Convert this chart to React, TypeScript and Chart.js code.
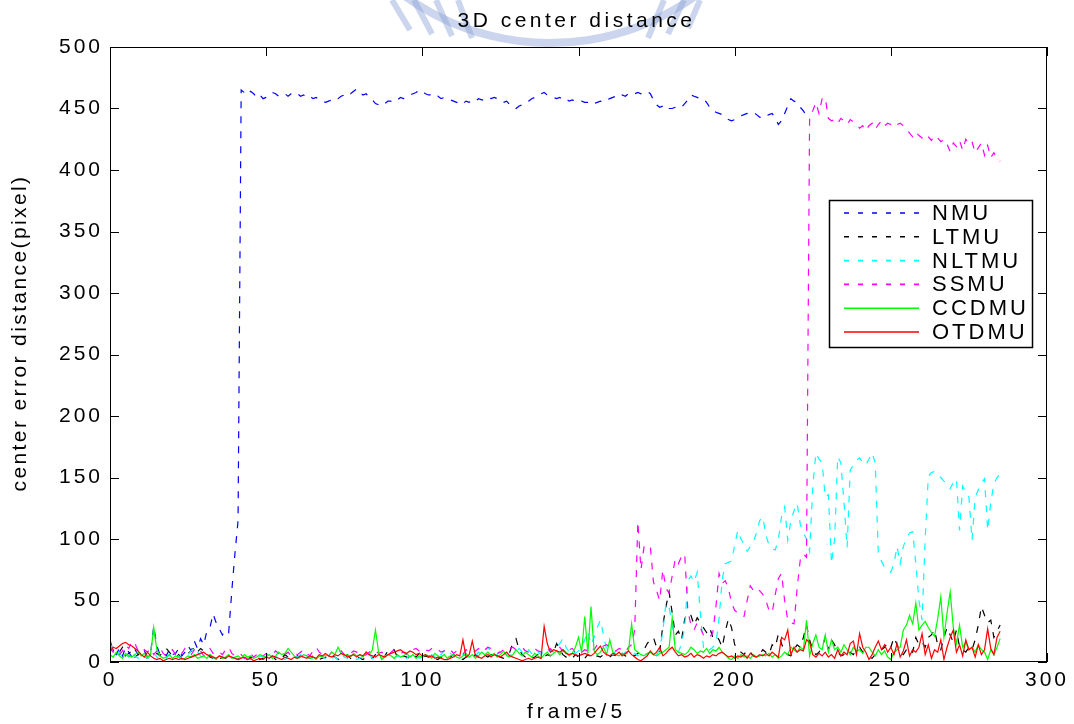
import { useEffect, useRef } from "react";
import { Chart, registerables } from "chart.js";

Chart.register(...registerables);

// Frame index of the first sample in every series (frames are plotted as frame/5).
const FIRST_FRAME = 0;

const NMU = [
  18, 9, 6, 11, 5, 12, 8, 4, 10, 6,
  5, 9, 4, 7, 29, 13, 6, 8, 5, 10,
  6, 7, 11, 5, 8, 13, 9, 17, 11, 19,
  14, 25, 28, 39, 32, 27, 22, 26, 24, 58,
  88, 115, 465, 463, 461, 464, 462, 459, 461, 458,
  459, 461, 463, 462, 460, 461, 462, 460, 462, 461,
  462, 460, 461, 459, 460, 458, 459, 457, 456, 455,
  456, 457, 459, 458, 460, 461, 463, 462, 464, 466,
  463, 461, 462, 459, 457, 454, 453, 455, 454, 456,
  456, 458, 457, 459, 458, 460, 461, 462, 463, 465,
  464, 462, 461, 461, 459, 460, 458, 459, 458, 457,
  456, 455, 453, 454, 456, 455, 457, 456, 458, 457,
  457, 459, 458, 459, 458, 457, 455, 456, 453, 451,
  450, 452, 453, 455, 456, 458, 459, 461, 462, 463,
  461, 460, 459, 458, 459, 457, 458, 456, 457, 456,
  455, 456, 455, 455, 456, 454, 455, 456, 455, 457,
  458, 459, 460, 459, 461, 460, 462, 461, 462, 463,
  462, 463, 464, 462, 457, 453, 451, 452, 449, 450,
  450, 451, 452, 451, 454, 457, 461, 460, 459, 458,
  458, 455, 451, 448, 447, 446, 445, 443, 441, 440,
  441, 443, 444, 445, 446, 447, 447, 445, 443, 442,
  444, 445, 446, 442, 437, 440, 446, 452, 458, 456,
  455, 451, 448, 444, 441,
];

const LTMU = [
  14, 10, 6, 8, 12, 5, 7, 9, 4, 6,
  8, 5, 3, 6, 4, 7, 5, 9, 11, 8,
  5, 4, 6, 3, 5, 7, 9, 12, 8, 11,
  9, 6, 4, 3, 5, 2, 4, 3, 5, 4,
  3, 2, 4, 3, 2, 4, 3, 5, 2, 3,
  4, 3, 5, 2, 4, 3, 6, 4, 2, 3,
  5, 3, 2, 4, 3, 5, 4, 2, 3, 4,
  3, 5, 4, 2, 3, 4, 6, 3, 2, 4,
  3, 2, 4, 5, 3, 6, 4, 3, 5, 9,
  11, 10, 4, 3, 5, 4, 3, 6, 4, 7,
  3, 5, 4, 6, 3, 2, 4, 3, 5, 4,
  6, 4, 3, 2, 4, 5, 3, 6, 4, 3,
  5, 4, 6, 3, 5, 4, 3, 6, 8, 16,
  19, 10, 6, 4, 5, 3, 4, 6, 5, 4,
  6, 5, 8, 15, 10, 6, 4, 5, 3, 6,
  4, 5, 3, 6, 4, 3, 5, 4, 6, 5,
  4, 6, 5, 3, 7, 5, 4, 6, 5, 7,
  8, 10, 15, 18, 20, 12, 8, 30, 45, 57,
  40, 22, 25, 18, 35, 40, 38, 30, 36, 32,
  28, 24, 28, 20, 22, 18, 12, 25, 35, 28,
  14, 12, 8, 6, 10, 8, 5, 4, 6, 10,
  8, 6, 14, 12, 23, 15, 8, 6, 5, 10,
  14, 12, 20, 30, 18, 10, 6, 8, 12, 20,
  10, 18, 14, 8, 5, 6, 4, 8, 6, 10,
  12, 8, 6, 4, 3, 6, 8, 10, 12, 16,
  12, 20, 14, 8, 6, 10, 12, 8, 20, 14,
  16, 12, 20, 22, 26, 14, 10, 20, 28, 22,
  16, 26, 12, 10, 8, 12, 10, 18, 30, 45,
  38, 32, 34, 20, 25, 30,
];

const NLTMU = [
  15, 10, 5, 8, 3, 6, 4, 9, 5, 3,
  4, 6, 3, 5, 8, 4, 2, 5, 3, 6,
  4, 2, 5, 3, 4, 6, 9, 12, 8, 5,
  3, 4, 6, 3, 2, 5, 4, 3, 6, 4,
  3, 2, 4, 5, 3, 2, 4, 3, 5, 4,
  2, 3, 5, 4, 6, 3, 2, 4, 3, 5,
  4, 6, 3, 5, 4, 2, 3, 5, 4, 3,
  5, 3, 4, 2, 6, 4, 3, 5, 4, 2,
  3, 5, 4, 6, 3, 2, 4, 3, 5, 6,
  4, 3, 5, 4, 2, 3, 5, 4, 6, 3,
  4, 5, 3, 6, 4, 8, 6, 9, 11, 7,
  5, 3, 4, 6, 5, 3, 4, 5, 8, 6,
  9, 12, 8, 5, 6, 10, 8, 6, 5, 7,
  9, 11, 8, 6, 10, 7, 5, 8, 6, 9,
  7, 10, 8, 12, 15, 19, 12, 8, 10, 7,
  9, 12, 18, 25, 14, 20, 28, 34, 22, 10,
  8, 6, 9, 7, 5, 8, 6, 4, 7, 5,
  6, 8, 5, 9, 7, 6, 10, 25, 48, 45,
  30, 12, 8, 15, 28, 66, 70, 65, 73, 40,
  12, 8, 10, 12, 15, 35, 67, 80, 81, 82,
  95, 107, 100, 96, 90, 94, 98, 105, 115, 118,
  103, 95, 92, 91, 100, 118, 126, 99, 115, 123,
  129, 112, 105, 100, 90, 142, 170, 165, 162, 134,
  136, 80, 100, 167, 162, 130, 93, 156, 160, 164,
  166, 162, 160, 165, 170, 162, 88, 82, 77, 75,
  73, 80, 94, 80, 94, 100, 105, 106, 80, 50,
  34, 100, 151, 154, 155, 152, 150, 147, 145, 141,
  146, 149, 107, 143, 138, 134, 99, 134, 140, 145,
  149, 107, 130, 145, 150, 153,
];

const SSMU = [
  12, 8, 10, 6, 9, 14, 11, 17, 15, 9,
  7, 10, 8, 11, 6, 9, 12, 7, 5, 8,
  10, 6, 9, 7, 11, 8, 6, 10, 7, 9,
  5, 8, 11, 7, 9, 8, 6, 10, 12, 7,
  5, 4, 6, 3, 5, 7, 4, 6, 8, 5,
  7, 5, 6, 9, 7, 4, 6, 8, 5, 7,
  6, 8, 10, 7, 5, 9, 12, 8, 6, 7,
  5, 8, 6, 7, 9, 6, 8, 7, 9, 8,
  7, 5, 6, 8, 10, 9, 7, 8, 6, 5,
  8, 10, 9, 7, 8, 6, 9, 10, 11, 9,
  8, 10, 9, 11, 12, 10, 8, 9, 11, 10,
  7, 9, 8, 6, 10, 8, 7, 9, 11, 8,
  10, 12, 11, 9, 7, 8, 10, 9, 11, 12,
  10, 11, 12, 9, 8, 10, 11, 9, 8, 10,
  9, 11, 8, 10, 12, 9, 7, 10, 11, 8,
  6, 8, 10, 9, 12, 10, 14, 11, 13, 14,
  12, 10, 9, 11, 10, 8, 12, 14, 26, 114,
  75, 94, 95, 94, 65, 58, 50, 75, 60, 56,
  70, 84, 80, 86, 88, 42, 30, 26, 32, 28,
  22, 22, 20, 24, 45, 72, 64, 66, 60, 48,
  42, 40, 38, 37, 50, 62, 58, 60, 58, 55,
  50, 42, 40, 55, 68, 72, 50, 34, 32, 31,
  60, 83, 88, 85, 445, 448, 455, 446, 458, 459,
  442, 440, 441, 438, 442, 440, 437, 441, 439, 437,
  434, 436, 432, 436, 438, 433, 437, 440, 436, 438,
  437, 439, 437, 438, 436, 433, 430, 427, 431, 428,
  426, 429, 427, 424, 428, 426, 423, 425, 421, 415,
  422, 419, 424, 416, 425, 421, 423, 414, 418, 422,
  412, 420, 410, 414, 409, 407,
];

const CCDMU = [
  6, 4, 8, 5, 3, 7, 5, 4, 6, 8,
  5, 7, 4, 6, 28, 10, 5, 3, 4, 6,
  3, 5, 4, 2, 3, 5, 4, 6, 3, 4,
  5, 3, 6, 4, 2, 5, 3, 4, 6, 3,
  4, 5, 3, 6, 4, 5, 3, 4, 6, 5,
  4, 6, 3, 5, 8, 6, 7, 11, 8, 5,
  3, 4, 6, 5, 3, 4, 2, 5, 4, 6,
  5, 8, 6, 12, 7, 5, 6, 4, 7, 5,
  6, 4, 8, 6, 10, 26, 8, 2, 4, 6,
  5, 3, 6, 4, 5, 7, 4, 6, 3, 5,
  4, 6, 5, 3, 7, 5, 4, 6, 3, 5,
  6, 4, 3, 5, 7, 4, 6, 3, 5, 8,
  6, 8, 5, 7, 4, 6, 9, 5, 4, 6,
  10, 7, 5, 8, 6, 4, 7, 5, 3, 6,
  8, 5, 7, 9, 6, 10, 8, 5, 7, 12,
  20, 8, 37, 7, 45, 9, 6, 8, 12, 6,
  18, 8, 6, 5, 7, 6, 9, 31, 10, 8,
  6, 5, 7, 8, 6, 5, 7, 8, 10, 12,
  36, 10, 8, 7, 6, 8, 12, 10, 7, 9,
  8, 11, 7, 10, 9, 12, 8, 6, 3, 2,
  5, 3, 6, 4, 5, 3, 6, 4, 5, 6,
  5, 7, 4, 6, 3, 5, 8, 6, 12, 10,
  8, 12, 10, 34, 5, 15, 22, 12, 10, 22,
  8, 18, 10, 12, 8, 14, 10, 6, 12, 9,
  10, 7, 12, 12, 8, 5, 10, 6, 9, 4,
  2, 8, 10, 12, 26, 30, 38, 31, 48, 26,
  30, 33, 28, 24, 21, 35, 53, 20, 40, 57,
  28, 15, 30, 12, 16, 10, 12, 8, 14, 10,
  8, 2, 10, 6, 12, 19,
];

const OTDMU = [
  8, 12, 11, 13, 15, 16, 14, 13, 11, 9,
  6, 4, 8, 5, 3, 2, 3, 1, 2, 3,
  2, 3, 2, 3, 2, 3, 4, 5, 6, 7,
  8, 6, 5, 4, 3, 5, 4, 3, 5, 4,
  3, 2, 3, 4, 2, 3, 1, 2, 3, 2,
  4, 3, 5, 4, 3, 2, 4, 3, 2, 4,
  3, 5, 4, 3, 5, 4, 3, 6, 5, 7,
  5, 4, 6, 5, 7, 6, 4, 5, 6, 4,
  6, 5, 8, 6, 5, 4, 6, 5, 4, 6,
  7, 8, 9, 10, 8, 7, 9, 8, 6, 7,
  5, 6, 4, 5, 3, 4, 3, 2, 2, 3,
  4, 6, 5, 18, 4, 6, 17, 5, 4, 3,
  5, 6, 4, 6, 5, 4, 6, 8, 5, 4,
  3, 2, 1, 2, 3, 2, 3, 4, 3, 29,
  15, 8, 10, 9, 8, 10, 7, 6, 7, 6,
  5, 6, 7, 6, 5, 7, 10, 13, 8, 6,
  5, 7, 6, 8, 5, 7, 9, 6, 4, 2,
  1, 3, 5, 9, 6, 8, 12, 5, 7, 10,
  12, 8, 5, 6, 4, 5, 7, 4, 6, 5,
  3, 5, 4, 6, 5, 7, 8, 6, 4, 5,
  3, 5, 4, 6, 3, 7, 5, 4, 6, 5,
  7, 5, 8, 6, 4, 20, 18, 26, 6, 12,
  8, 10, 9, 18, 16, 6, 4, 7, 5, 8,
  4, 6, 3, 10, 5, 8, 6, 15, 17, 6,
  23, 12, 8, 2, 6, 12, 17, 10, 14, 8,
  12, 6, 15, 4, 9, 18, 5, 10, 8, 12,
  23, 6, 14, 3, 10, 8, 18, 2, 12, 20,
  26, 8, 14, 5, 18, 10, 12, 4, 14, 6,
  10, 27, 11, 6, 20, 25,
];

const SERIES_NAMES = ["NMU", "LTMU", "NLTMU", "SSMU", "CCDMU", "OTDMU"];
const SERIES_VALUES = [NMU, LTMU, NLTMU, SSMU, CCDMU, OTDMU];
const SERIES_COLORS = ["#0000ff", "#000000", "#00ffff", "#ff00ff", "#00ff00", "#ff0000"];
const SERIES_DASHED = [true, true, true, true, false, false];

const X_MIN = 0;
const X_MAX = 300;
const X_STEP = 50;
const Y_MIN = 0;
const Y_MAX = 500;
const Y_STEP = 50;

const TITLE = "3D center distance";
const X_TITLE = "frame/5";
const Y_TITLE = "center error distance(pixel)";

const FONT = '"Liberation Sans", Arial, Helvetica, sans-serif';
const DASH = [7, 8];
const TICK_SPACING = 3;

const toPoints = (values: number[]) =>
  values.map((v, i) => ({ x: FIRST_FRAME + i, y: v }));

// Faint crest printed behind the figure; also sets the wide glyph spacing used by the tick labels.
const crestPlugin = {
  id: "crest",
  beforeDraw(chart: any) {
    const ctx = chart.ctx as CanvasRenderingContext2D;
    ctx.save();
    ctx.fillStyle = "#ffffff";
    ctx.fillRect(0, 0, chart.width, chart.height);
    ctx.strokeStyle = "rgba(140, 162, 214, 0.45)";
    ctx.lineWidth = 8;
    ctx.beginPath();
    ctx.arc(550, -205, 248, 0.2 * Math.PI, 0.8 * Math.PI);
    ctx.stroke();
    ctx.lineWidth = 6;
    const stripes: [number, number, number, number][] = [
      [392, 0, 410, 30],
      [414, 0, 432, 34],
      [436, 0, 452, 36],
      [458, 0, 472, 38],
      [648, 38, 664, 0],
      [668, 34, 684, 0],
      [688, 28, 700, 0],
    ];
    for (const [x1, y1, x2, y2] of stripes) {
      ctx.beginPath();
      ctx.moveTo(x1, y1);
      ctx.lineTo(x2, y2);
      ctx.stroke();
    }
    ctx.restore();
    (ctx as any).letterSpacing = `${TICK_SPACING}px`;
  },
};

// Box, inward ticks, titles and the legend panel.
const framePlugin = {
  id: "frame",
  afterDraw(chart: any) {
    const ctx = chart.ctx as CanvasRenderingContext2D;
    const { left, right, top, bottom } = chart.chartArea;
    const xs = chart.scales.x;
    const ys = chart.scales.y;
    const tick = 9;
    ctx.save();
    ctx.strokeStyle = "#000";
    ctx.lineWidth = 1;
    ctx.setLineDash([]);
    ctx.strokeRect(left + 0.5, top + 0.5, right - left - 1, bottom - top - 1);
    ctx.beginPath();
    for (let v = X_MIN; v <= X_MAX; v += X_STEP) {
      const px = Math.round(xs.getPixelForValue(v)) + 0.5;
      ctx.moveTo(px, bottom);
      ctx.lineTo(px, bottom - tick);
      ctx.moveTo(px, top);
      ctx.lineTo(px, top + tick);
    }
    for (let v = Y_MIN; v <= Y_MAX; v += Y_STEP) {
      const py = Math.round(ys.getPixelForValue(v)) + 0.5;
      ctx.moveTo(left, py);
      ctx.lineTo(left + tick, py);
      ctx.moveTo(right, py);
      ctx.lineTo(right - tick, py);
    }
    ctx.stroke();

    ctx.fillStyle = "#000";
    ctx.textAlign = "center";
    ctx.textBaseline = "middle";
    ctx.font = `21px ${FONT}`;
    const cx = (left + right) / 2;
    (ctx as any).letterSpacing = "3.5px";
    ctx.fillText(TITLE, cx - 2, 21);
    (ctx as any).letterSpacing = "4px";
    ctx.fillText(X_TITLE, cx - 2, 712);
    (ctx as any).letterSpacing = "2.4px";
    ctx.save();
    ctx.translate(20, 333);
    ctx.rotate(-Math.PI / 2);
    ctx.fillText(Y_TITLE, 0, 0);
    ctx.restore();

    // legend
    const lx = 829;
    const ly = 200;
    const lw = 203;
    const lh = 147;
    ctx.fillStyle = "#fff";
    ctx.fillRect(lx, ly, lw, lh);
    ctx.strokeStyle = "#000";
    ctx.lineWidth = 1.5;
    ctx.strokeRect(lx + 0.5, ly + 0.5, lw, lh);
    ctx.font = `22px ${FONT}`;
    (ctx as any).letterSpacing = "3px";
    ctx.textAlign = "left";
    SERIES_NAMES.forEach((name, i) => {
      const yy = 213 + i * 23.8;
      ctx.strokeStyle = SERIES_COLORS[i];
      ctx.lineWidth = 1.6;
      ctx.setLineDash(SERIES_DASHED[i] ? [5, 9] : []);
      ctx.beginPath();
      ctx.moveTo(844, yy);
      ctx.lineTo(919, yy);
      ctx.stroke();
      ctx.fillStyle = "#000";
      ctx.fillText(name, 932, yy + 1);
    });
    ctx.restore();
  },
};

export default function App() {
  const canvasRef = useRef<HTMLCanvasElement | null>(null);

  useEffect(() => {
    const canvas = canvasRef.current;
    if (!canvas) return;
    const datasets = SERIES_NAMES.map((name, i) => ({
      label: name,
      data: toPoints(SERIES_VALUES[i]),
      borderColor: SERIES_COLORS[i],
      backgroundColor: SERIES_COLORS[i],
      borderWidth: 1.2,
      borderDash: SERIES_DASHED[i] ? DASH : [],
      pointRadius: 0,
      tension: 0,
      fill: false,
      order: SERIES_NAMES.length - i,
    }));
    const tickFont = { family: FONT, size: 21 };
    const chart = new Chart(canvas, {
      type: "line",
      data: { datasets },
      options: {
        animation: false,
        responsive: false,
        devicePixelRatio: 1,
        layout: { padding: { left: 0, right: 27, top: 47, bottom: 0 } },
        plugins: {
          legend: { display: false },
          title: { display: false },
          tooltip: { enabled: false },
        },
        scales: {
          x: {
            type: "linear",
            min: X_MIN,
            max: X_MAX,
            ticks: { stepSize: X_STEP, font: tickFont, color: "#000", padding: 6, maxRotation: 0 },
            grid: { display: false, drawTicks: false },
            border: { display: false },
            afterFit: (s: any) => {
              s.height = 62;
            },
          },
          y: {
            min: Y_MIN,
            max: Y_MAX,
            ticks: { stepSize: Y_STEP, font: tickFont, color: "#000", padding: 10 - TICK_SPACING },
            grid: { display: false, drawTicks: false },
            border: { display: false },
            afterFit: (s: any) => {
              s.width = 110;
            },
          },
        },
      } as any,
      plugins: [crestPlugin, framePlugin],
    });
    return () => chart.destroy();
  }, []);

  return (
    <div style={{ position: "fixed", left: 0, top: 0, width: 1074, height: 724, background: "#fff" }}>
      <canvas ref={canvasRef} width={1074} height={724} />
    </div>
  );
}
